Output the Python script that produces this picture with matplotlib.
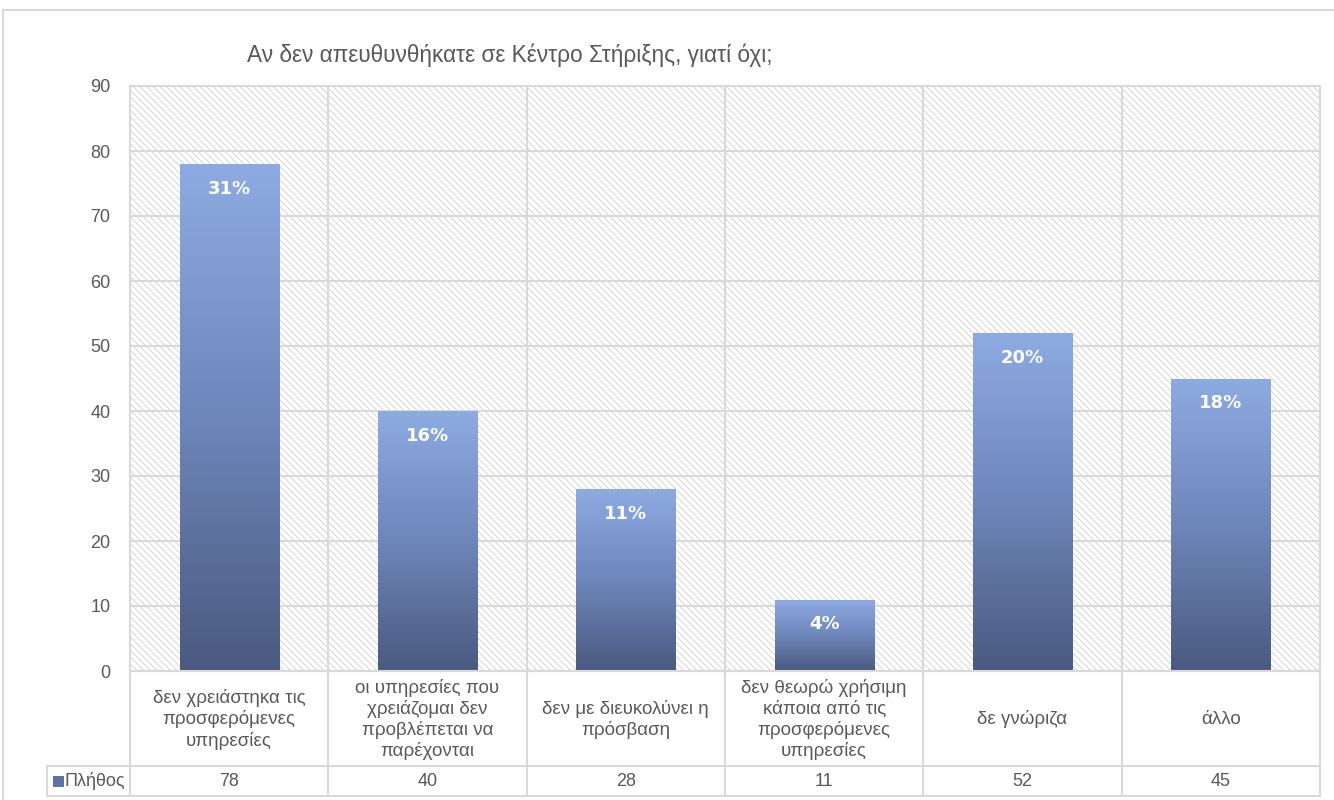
import matplotlib.pyplot as plt
import numpy as np
from matplotlib.colors import LinearSegmentedColormap
from matplotlib.patches import Rectangle
from matplotlib.lines import Line2D

plt.rcParams['font.family'] = ['Liberation Sans Narrow', 'Liberation Sans', 'DejaVu Sans']
plt.rcParams['hatch.linewidth'] = 0.6

categories = [
    "δεν χρειάστηκα τις\nπροσφερόμενες\nυπηρεσίες",
    "οι υπηρεσίες που\nχρειάζομαι δεν\nπροβλέπεται να\nπαρέχονται",
    "δεν με διευκολύνει η\nπρόσβαση",
    "δεν θεωρώ χρήσιμη\nκάποια από τις\nπροσφερόμενες\nυπηρεσίες",
    "δε γνώριζα",
    "άλλο",
]
counts = [78, 40, 28, 11, 52, 45]
series_name = "Πλήθος"
title = "Αν δεν απευθυνθήκατε σε Κέντρο Στήριξης, γιατί όχι;"

W, H = 1334, 800
grid_col = '#D9D9D9'
text_col = '#595959'

def fx(x):
    return x / W

def fy(y):
    return 1 - y / H

fig = plt.figure(figsize=(W / 100, H / 100), dpi=100)

# plot area in pixels
left, right, top, bottom = 130, 1320, 86, 671
ax = fig.add_axes([fx(left), fy(bottom), fx(right - left), fy(top) - fy(bottom)])

n = len(counts)

# hatched background
ax.add_patch(Rectangle((0, 0), 1, 1, transform=ax.transAxes, facecolor='white',
                       edgecolor='#CFCFCF', hatch='\\\\\\\\\\', linewidth=0, zorder=0))

x = np.arange(n) + 0.5
bars = ax.bar(x, counts, width=0.5, color='none', zorder=3)

cmap = LinearSegmentedColormap.from_list('bar', ['#4A5A7F', '#6E86BA', '#8DABE2'])
grad = np.linspace(0, 1, 256).reshape(-1, 1)
for b in bars:
    x0, w, h = b.get_x(), b.get_width(), b.get_height()
    im = ax.imshow(grad, cmap=cmap, origin='lower', aspect='auto',
                   extent=[x0, x0 + w, 0, h], zorder=3)
    im.set_clip_path(b)

total = sum(counts)
for xi, c in zip(x, counts):
    ax.text(xi, c - 3.8, f"{round(100 * c / total)}%", ha='center', va='center',
            color='white', fontsize=13, fontweight='bold', zorder=5,
            family=['DejaVu Sans'])

ax.set_xlim(0, n)
ax.set_ylim(0, 90)
ax.set_yticks(range(0, 91, 10))
ax.set_xticks([])
ax.yaxis.grid(True, color=grid_col, linewidth=1.5, zorder=1)
ax.set_axisbelow(True)
for xv in range(1, n):
    ax.axvline(xv, color=grid_col, linewidth=1.5, zorder=1)
for s in ax.spines.values():
    s.set_color(grid_col)
    s.set_linewidth(1.5)
ax.tick_params(axis='y', length=0, pad=14, labelsize=13, labelcolor=text_col)

# data table below the plot
row1, row2 = 766, 796
cw = (right - left) / n
lines = []
lines.append(([left, right], [bottom, bottom]))
lines.append(([47, right], [row1, row1]))
lines.append(([47, right], [row2, row2]))
lines.append(([47, 47], [row1, row2]))
for i in range(n + 1):
    xv = left + i * cw
    lines.append(([xv, xv], [bottom, row2]))
for xs, ys in lines:
    fig.add_artist(Line2D([fx(v) for v in xs], [fy(v) for v in ys],
                          color=grid_col, linewidth=1.5))

for i, (lab, c) in enumerate(zip(categories, counts)):
    cx = left + (i + 0.5) * cw
    fig.text(fx(cx), fy((bottom + row1) / 2 + 1), lab, ha='center', va='center',
             fontsize=13.5, color=text_col, linespacing=1.22)
    fig.text(fx(cx), fy((row1 + row2) / 2), str(c), ha='center', va='center',
             fontsize=13, color=text_col)

fig.add_artist(Rectangle((fx(53), fy(787)), fx(11), fy(776) - fy(787),
                         facecolor='#5B74A8', edgecolor='none'))
fig.text(fx(65), fy((row1 + row2) / 2), series_name, ha='left', va='center',
         fontsize=13, color=text_col)

# outer chart border
fig.add_artist(Line2D([fx(3), fx(W)], [fy(10), fy(10)], color=grid_col, linewidth=1.5))
fig.add_artist(Line2D([fx(3), fx(3)], [fy(10), fy(H)], color=grid_col, linewidth=1.5))

fig.text(fx(510), fy(55), title, ha='center', va='center', fontsize=16.3, color=text_col)

fig.savefig('out.png', dpi=100, facecolor='white')
